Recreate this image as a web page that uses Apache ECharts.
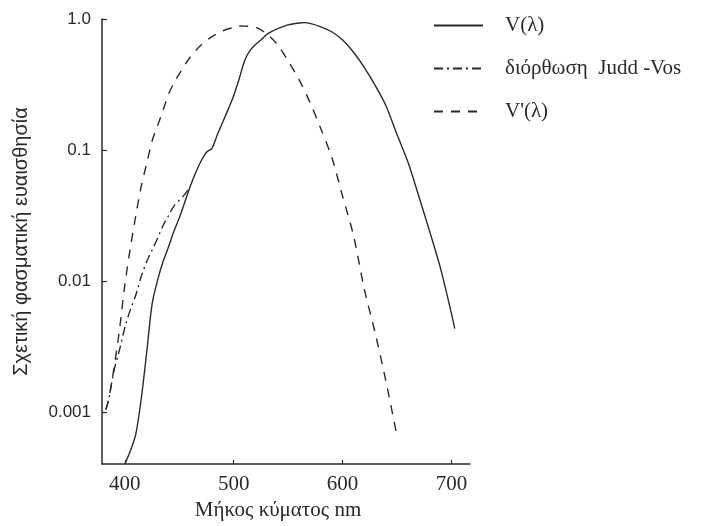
<!DOCTYPE html>
<html>
<head>
<meta charset="utf-8">
<script src="https://cdn.jsdelivr.net/npm/echarts@6/dist/echarts.min.js"></script>
<style>
  html, body { margin: 0; padding: 0; background: #fff; }
  #chart { width: 701px; height: 526px; }
</style>
</head>
<body>
<div id="chart"></div>
<script>
// Photopic luminous efficiency V(λ)
const photopicNm = [400, 405, 410, 415, 420, 425, 430, 435, 440, 445, 450, 455, 460, 465, 470, 475, 480, 485, 490, 495,
  500, 505, 510, 515, 520, 525, 530, 535, 540, 550, 560, 565, 570, 580, 590, 600, 610, 620, 630, 640,
  650, 660, 670, 680, 690, 700, 703];
const photopicV = [0.0004, 0.000503, 0.000674, 0.00125, 0.00282, 0.00666, 0.0101, 0.0140, 0.0181, 0.0238, 0.0303, 0.0399, 0.0526, 0.0670, 0.0823, 0.0961, 0.103, 0.131, 0.164, 0.205,
  0.261, 0.350, 0.481, 0.576, 0.639, 0.691, 0.759, 0.804, 0.842, 0.902, 0.933, 0.938, 0.925, 0.871, 0.799, 0.691, 0.557, 0.426, 0.310, 0.216,
  0.131, 0.0809, 0.0443, 0.0238, 0.0124, 0.00561, 0.00433];

// Judd-Vos correction in the short-wavelength range
const juddNm = [382.5, 385, 390, 395, 400, 405, 410, 415, 420, 425, 430, 435, 440, 445, 450, 455, 460];
const juddV = [0.00104, 0.00123, 0.00206, 0.00296, 0.00441, 0.00601, 0.00778, 0.0108, 0.0140, 0.0172, 0.0211, 0.0264, 0.0314, 0.0373, 0.0413, 0.0458, 0.0526];

// Scotopic luminous efficiency V'(λ)
const scotopicNm = [382.5, 385, 390, 395, 400, 405, 410, 415, 420, 425, 430, 435, 440, 445, 450, 455, 460, 470, 480, 490, 500,
  505, 510, 520, 530, 540, 550, 560, 570, 580, 590, 600, 610, 620, 630, 640, 650];
const scotopicV = [0.00104, 0.00123, 0.00216, 0.0042, 0.0094, 0.0178, 0.0314, 0.0526, 0.0786, 0.117, 0.153, 0.200, 0.265, 0.324, 0.381, 0.445, 0.511, 0.634, 0.734, 0.813, 0.864,
  0.885, 0.882, 0.865, 0.772, 0.639, 0.477, 0.344, 0.231, 0.145, 0.0881, 0.0443, 0.0222, 0.00862, 0.00397, 0.00168, 0.000651];

const xTicks = [400, 500, 600, 700];
const yTicks = [0.001, 0.01, 0.1, 1];
const yTickText = ['0.001', '0.01', '0.1', '1.0'];

const seriesNames = ['V(λ)', 'διόρθωση  Judd -Vos', "V'(λ)"];

const pairs = (xs, ys) => xs.map((x, i) => [x, ys[i]]);

const ink = '#2a2a2a';
const chart = echarts.init(document.getElementById('chart'), null, { renderer: 'canvas' });

chart.setOption({
  backgroundColor: '#ffffff',
  animation: false,
  grid: { left: 102, right: 231, top: 19, bottom: 52, containLabel: false },
  legend: {
    orient: 'vertical',
    left: 428,
    top: 10,
    itemWidth: 49,
    itemHeight: 14,
    itemGap: 22,
    itemStyle: { opacity: 0 },
    textStyle: {
      fontFamily: 'Liberation Serif',
      fontSize: 21,
      color: ink,
      padding: [0, 0, 0, 17]
    },
    data: seriesNames
  },
  xAxis: {
    type: 'value',
    min: 379,
    max: 717,
    name: 'Μήκος κύματος nm',
    nameLocation: 'middle',
    nameGap: 36,
    nameTextStyle: { fontFamily: 'Liberation Serif', fontSize: 21, color: ink, padding: [0, 16, 0, 0] },
    axisLine: { show: true, onZero: false, lineStyle: { color: ink, width: 1.5 } },
    axisTick: { show: true, inside: true, length: 4, customValues: xTicks, lineStyle: { color: ink, width: 1.2 } },
    axisLabel: { customValues: xTicks, margin: 10, fontFamily: 'Liberation Serif', fontSize: 21, color: ink },
    splitLine: { show: false }
  },
  yAxis: {
    type: 'log',
    logBase: 10,
    min: 0.0004,
    max: 1,
    name: 'Σχετική φασματική ευαισθησία',
    nameLocation: 'middle',
    nameGap: 71,
    nameTextStyle: { fontFamily: 'Liberation Sans', fontSize: 20, color: ink },
    axisLine: { show: true, lineStyle: { color: ink, width: 1.5 } },
    axisTick: { show: true, inside: true, length: 5, customValues: yTicks, lineStyle: { color: ink, width: 1.2 } },
    axisLabel: {
      customValues: yTicks,
      margin: 11,
      fontFamily: 'Liberation Sans',
      fontSize: 17,
      color: ink,
      formatter: (v) => {
        const i = yTicks.findIndex((t) => Math.abs(Math.log10(v) - Math.log10(t)) < 1e-6);
        return i >= 0 ? yTickText[i] : '';
      }
    },
    splitLine: { show: false }
  },
  series: [
    {
      name: seriesNames[0],
      type: 'line',
      data: pairs(photopicNm, photopicV),
      symbol: 'none',
      smooth: 0.3,
      lineStyle: { color: ink, width: 1.4, type: 'solid' },
      itemStyle: { color: ink }
    },
    {
      name: seriesNames[1],
      type: 'line',
      data: pairs(juddNm, juddV),
      symbol: 'none',
      smooth: 0.3,
      lineStyle: { color: ink, width: 1.4, type: [9, 4, 2, 4] },
      itemStyle: { color: ink }
    },
    {
      name: seriesNames[2],
      type: 'line',
      data: pairs(scotopicNm, scotopicV),
      symbol: 'none',
      smooth: 0.3,
      lineStyle: { color: ink, width: 1.4, type: [9, 8] },
      itemStyle: { color: ink }
    }
  ]
});
</script>
</body>
</html>
